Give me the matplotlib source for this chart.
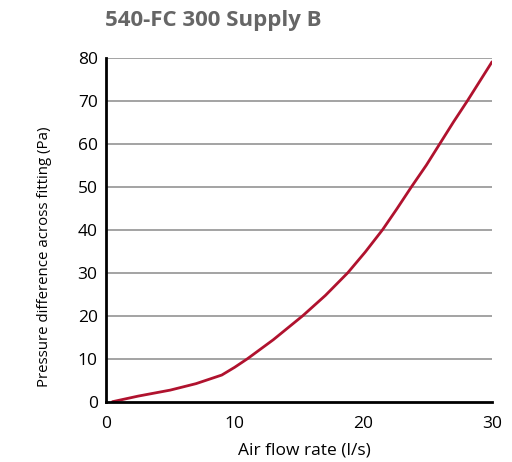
import numpy as np
import matplotlib.pyplot as plt

# flow (l/s) vs pressure drop (Pa)
flow = [0.5, 2.5, 5, 7, 9, 10, 11, 13, 15.3, 17.05, 18.8, 20.15, 21.5, 22.6, 23.75,
        24.9, 25.95, 27, 28.1, 30]
pressure = [0, 1.3, 2.7, 4.2, 6.2, 8.0, 10, 14.4, 20, 24.7, 30, 34.8, 40, 44.8, 50,
            55, 60, 65, 70, 79]

title = "540-FC 300 Supply B"
xticks = [0, 10, 20, 30]
yticks = [0, 10, 20, 30, 40, 50, 60, 70, 80]

plt.rcParams['font.family'] = ['Open Sans', 'DejaVu Sans']

fig = plt.figure(figsize=(5.12, 4.62), dpi=100)
ax = fig.add_axes([0.207, 0.1305, 0.754, 0.745])

for y in yticks[1:]:
    ax.axhline(y, color='#8a8a8a', lw=1.1, zorder=1)

ax.plot(flow, pressure, color='#b0122e', lw=2, zorder=3,
        solid_capstyle='round', solid_joinstyle='round')

ax.set_xlim(0, 30)
ax.set_ylim(0, 80)
ax.set_xticks(xticks)
ax.set_yticks(yticks)
ax.tick_params(length=0, labelsize=12.5, pad=6)
ax.tick_params(axis='x', pad=10)
ax.spines['top'].set_visible(False)
ax.spines['right'].set_visible(False)
ax.spines['left'].set_linewidth(2)
ax.spines['bottom'].set_linewidth(2)
ax.spines['left'].set_zorder(4)
ax.spines['bottom'].set_zorder(4)

ax.set_xlabel("Air flow rate (l/s)", fontsize=12.5)
ax.set_ylabel("Pressure difference across fitting (Pa)", fontsize=10.8)
ax.xaxis.set_label_coords(0.515, -0.118)
ax.yaxis.set_label_coords(-0.14, 0.42)

fig.text(0.205, 0.955, title, fontsize=16, fontweight='bold', color='#666666', va='center')

fig.savefig("out.png", dpi=100)
